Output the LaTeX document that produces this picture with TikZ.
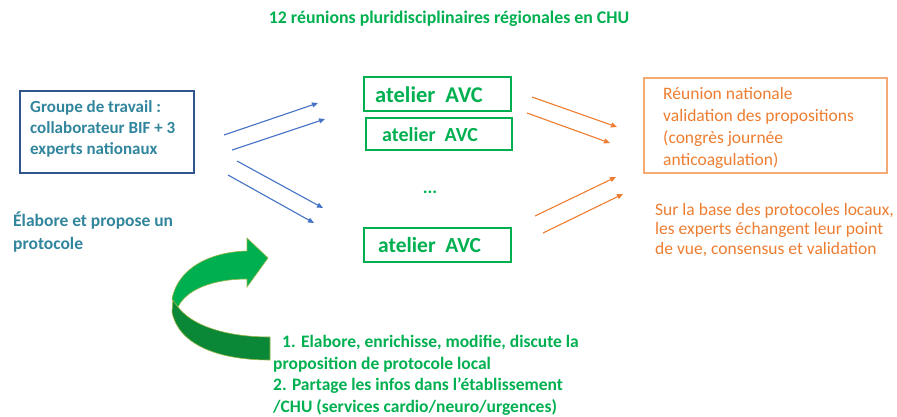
\documentclass[tikz,border=0pt]{standalone}
\usepackage{fontspec}
\setmainfont{Carlito}
\usetikzlibrary{arrows.meta}
\definecolor{tgreen}{RGB}{0,176,80}
\definecolor{dgreen}{RGB}{10,135,55}
\definecolor{olive}{RGB}{150,180,70}
\definecolor{boxblue}{RGB}{47,85,140}
\definecolor{teal}{RGB}{49,133,156}
\definecolor{arrblue}{RGB}{68,114,196}
\definecolor{orng}{RGB}{237,125,49}
\definecolor{orngbox}{RGB}{246,170,115}
\begin{document}
\begin{tikzpicture}[x=1pt,y=-1pt,
  bluearr/.style={arrblue, line width=1.1pt, -{Triangle[length=6pt,width=5pt]}},
  orarr/.style={orng, line width=1.1pt, -{Triangle[length=6pt,width=5pt]}},
  atbox/.style={draw=tgreen, line width=2pt, inner sep=0pt, minimum width=147pt, minimum height=34pt},
  attext/.style={text=tgreen, inner sep=0pt, anchor=west},
  gtext/.style={text=tgreen, font=\bfseries\fontsize{17.5}{21.6}\selectfont, align=left, inner sep=0pt},
]
\useasboundingbox (0,0) rectangle (897,416);

\node[text=tgreen, font=\bfseries\fontsize{17.8}{20}\selectfont] (title) at (449,19) {12 réunions pluridisciplinaires régionales en CHU};

% left group box
\node[draw=boxblue, line width=1.6pt, anchor=north west, minimum width=174pt, minimum height=82pt, inner sep=0pt] (grp) at (19,90) {};
\node[anchor=west, align=left, text=teal, inner sep=0pt,
  font=\bfseries\fontsize{17}{21}\selectfont] (grpt) at (30,129) {Groupe de travail :\\collaborateur BIF + 3\\experts nationaux};

\node[anchor=north west, align=left, text=teal, inner sep=0pt,
  font=\bfseries\fontsize{17.5}{22.5}\selectfont] (elab) at (13,212) {Élabore et propose un\\protocole};

% atelier boxes
\node[atbox] (a1) at (437.5,94) {};
\node[attext, font=\bfseries\fontsize{22.5}{24}\selectfont] (a1t) at (375,94.5) {atelier~~AVC};
\node[atbox, minimum width=146pt, minimum height=32pt] (a2) at (439,134) {};
\node[attext, font=\bfseries\fontsize{20}{22}\selectfont] (a2t) at (382,134.5) {atelier~~AVC};
\node[atbox] (a3) at (437.5,245) {};
\node[attext, font=\bfseries\fontsize{21.5}{23}\selectfont] (a3t) at (378,245.5) {atelier~~AVC};
\node[text=tgreen, font=\bfseries\fontsize{18}{20}\selectfont] (dots) at (430,192) {...};

% orange box and text
\node[draw=orngbox, line width=1.6pt, anchor=north west, minimum width=243pt, minimum height=95pt, inner sep=0pt] (nat) at (643,77) {};
\node[anchor=west, align=left, text=orng, inner sep=0pt,
  font=\fontsize{17.5}{22}\selectfont] (natt) at (663,128) {Réunion nationale\\validation des propositions\\(congrès journée\\anticoagulation)};

\node[anchor=north west, align=left, text=orng, inner sep=0pt,
  font=\fontsize{17.5}{19.5}\selectfont] (base) at (655,203) {Sur la base des protocoles locaux,\\les experts échangent leur point\\de vue, consensus et validation};

% blue arrows
\coordinate (b1s) at (224,135); \coordinate (b1e) at (318,103);
\coordinate (b2s) at (232,150); \coordinate (b2e) at (325,119);
\coordinate (b3s) at (237,161); \coordinate (b3e) at (323,208);
\coordinate (b4s) at (228,175); \coordinate (b4e) at (314,223);
\draw[bluearr] (b1s) -- (b1e);
\draw[bluearr] (b2s) -- (b2e);
\draw[bluearr] (b3s) -- (b3e);
\draw[bluearr] (b4s) -- (b4e);

% orange arrows
\coordinate (o1s) at (532,97);  \coordinate (o1e) at (617,127);
\coordinate (o2s) at (527,113); \coordinate (o2e) at (610,143);
\coordinate (o3s) at (535,216); \coordinate (o3e) at (616,177);
\coordinate (o4s) at (543,233); \coordinate (o4e) at (623,194);
\draw[orarr] (o1s) -- (o1e);
\draw[orarr] (o2s) -- (o2e);
\draw[orarr] (o3s) -- (o3e);
\draw[orarr] (o4s) -- (o4e);

% curved green arrow
\fill[dgreen, draw=olive, line width=0.6pt] (173,299) .. controls (185,325) and (225,337) .. (270,337) -- (270,360) .. controls (215,360) and (178,343) .. (172,312) -- cycle;
\fill[tgreen, draw=olive, line width=0.6pt] (247,251) -- (247,238) -- (268,258) -- (247,287) -- (247,279) .. controls (212,279) and (186,290) .. (178,307) -- (172,299) .. controls (178,268) and (210,252) .. (247,251) -- cycle;

% green list text
\node[gtext, anchor=north west] (list) at (273,335) {\hspace*{9pt}1. Elabore, enrichisse, modifie, discute la\\proposition de protocole local\\2. Partage les infos dans l’établissement\\/CHU (services cardio/neuro/urgences)};
\end{tikzpicture}
\end{document}
